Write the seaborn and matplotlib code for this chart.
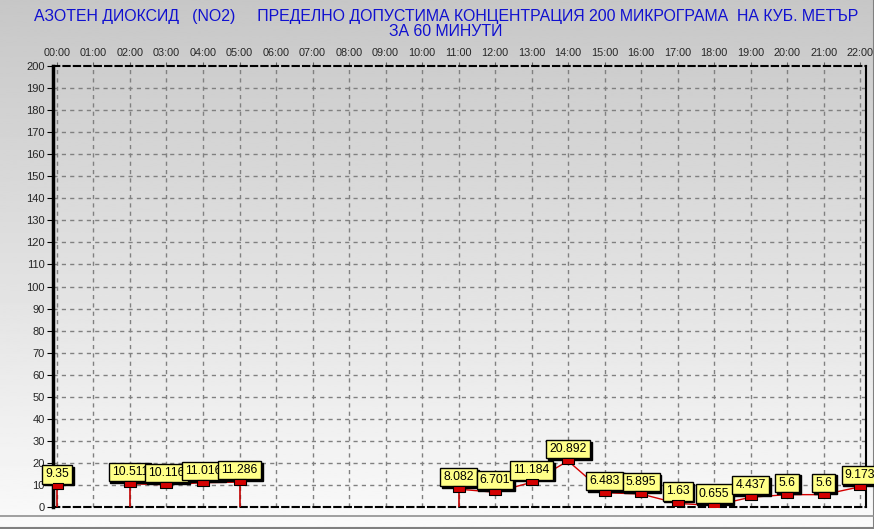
import numpy as np
import pandas as pd
import matplotlib
matplotlib.use("Agg")
import matplotlib.pyplot as plt
import seaborn as sns
from matplotlib.path import Path

# data
hours = [0, 2, 3, 4, 5, 11, 12, 13, 14, 15, 16, 17, 18, 19, 20, 21, 22]
values = [9.35, 10.511, 10.116, 11.016, 11.286, 8.082, 6.701, 11.184, 20.892,
          6.483, 5.895, 1.63, 0.655, 4.437, 5.6, 5.6, 9.173]
segments = [[0], [2, 3, 4, 5], list(range(11, 23))]
drop_hours = [0, 2, 5, 11]
tick_labels = [f"{h:02d}:00" for h in range(23)]
y_ticks = list(range(0, 201, 10))
title_lines = ["АЗОТЕН ДИОКСИД   (NO2)     ПРЕДЕЛНО ДОПУСТИМА КОНЦЕНТРАЦИЯ 200 МИКРОГРАМА  НА КУБ. МЕТЪР",
               "ЗА 60 МИНУТИ"]

sns.set_style("white")
plt.rcParams['font.family'] = ['Liberation Sans', 'DejaVu Sans']

df = pd.DataFrame({"hour": hours, "value": values})

fig = plt.figure(figsize=(8.74, 5.29), dpi=100)

# background gradient over whole figure
bg = fig.add_axes([0, 0, 1, 1], zorder=-10)
grad = np.linspace(0.78, 0.98, 256).reshape(-1, 1)
bg.imshow(grad, cmap="gray", vmin=0, vmax=1, aspect="auto", extent=[0, 1, 0, 1])
bg.set_xlim(0, 1)
bg.set_ylim(0, 1)
bg.axis("off")
bg.plot([0, 1, 1], [0.002, 0.002, 1], color="#808080", lw=1.5)
bg.axhline(0.025, color="#909090", lw=1.2)

ax = fig.add_axes([0.0606, 0.0416, 0.9302, 0.8336])
ax.set_facecolor("none")
ax.set_xlim(-0.11, 22.16)
ax.set_ylim(0, 200)

# grid
for h in range(23):
    ax.axvline(h, color="#808080", lw=1, ls=(0, (3, 3)), zorder=1)
for v in y_ticks[1:-1]:
    ax.axhline(v, color="#808080", lw=1, ls=(0, (3, 3)), zorder=1)

# line segments
for seg in segments:
    sub = df[df["hour"].isin(seg)]
    if len(sub) > 1:
        sns.lineplot(data=sub, x="hour", y="value", ax=ax, color="#d40000",
                     lw=1, zorder=3, legend=False)
sub = df[df["hour"].isin(drop_hours)]
ax.vlines(sub["hour"], 0, sub["value"], color="#c00000", lw=1.2, zorder=3)

# value labels with shadow
for h, v in zip(hours, values):
    ax.annotate(f"{v:g}", (h, v), xytext=(1.3, 7.3), textcoords="offset points",
                ha="center", va="center", fontsize=8.8, color="black", zorder=5,
                bbox=dict(boxstyle="square,pad=0.26", fc="black", ec="black", lw=1))
    ax.annotate(f"{v:g}", (h, v), xytext=(0, 8.6), textcoords="offset points",
                ha="center", va="center", fontsize=8.8, color="black", zorder=6,
                bbox=dict(boxstyle="square,pad=0.26", fc="#ffff88", ec="black", lw=1))

# rectangle markers
rect = Path([(-1, -0.5), (1, -0.5), (1, 0.5), (-1, 0.5), (-1, -0.5)],
            [Path.MOVETO, Path.LINETO, Path.LINETO, Path.LINETO, Path.CLOSEPOLY])
sns.scatterplot(data=df, x="hour", y="value", ax=ax, marker=rect, s=65,
                color="#d40000", edgecolor="black", linewidth=0.8, zorder=7, legend=False)

# ticks
ax.set_yticks(y_ticks)
ax.set_yticklabels([str(t) for t in y_ticks])
ax.set_xticks(range(23))
ax.set_xticklabels(tick_labels)
ax.xaxis.tick_top()
ax.tick_params(axis="x", top=True, length=3, labelsize=7.8, pad=3, color="#606060")
ax.tick_params(axis="y", left=True, length=4, labelsize=8, pad=2, color="black")
ax.set_xlabel("")
ax.set_ylabel("")

# spines
ax.spines["left"].set_linewidth(2.5)
ax.spines["right"].set_linewidth(1.5)
ax.spines["top"].set_linewidth(1.5)
ax.spines["top"].set_linestyle((0, (3, 2)))
ax.spines["bottom"].set_linewidth(1.5)
ax.spines["bottom"].set_linestyle((0, (3, 2)))
for s in ax.spines.values():
    s.set_color("black")
    s.set_visible(True)

title_font = ['Liberation Sans Narrow', 'Liberation Sans', 'DejaVu Sans']
fig.text(446 / 874, 1 - 16 / 529, title_lines[0], ha="center", va="center",
         color="#1010d0", fontsize=11.4, family=title_font)
fig.text(446 / 874, 1 - 32 / 529, title_lines[1], ha="center", va="center",
         color="#1010d0", fontsize=11.4, family=title_font)

fig.savefig("out.png", dpi=100)
